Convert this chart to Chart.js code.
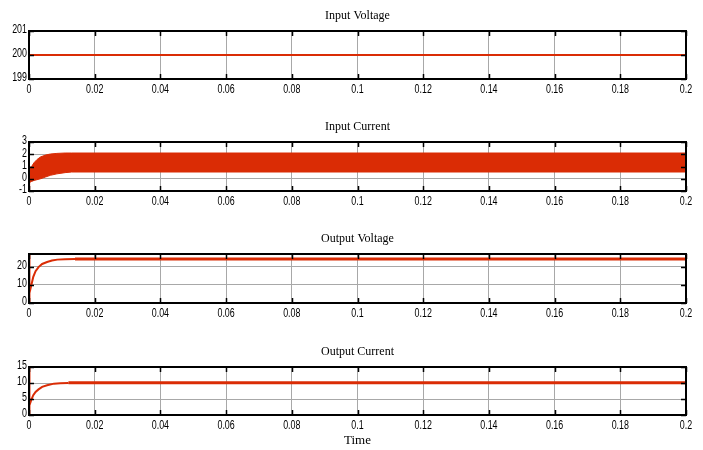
<!DOCTYPE html>
<html>
<head>
<meta charset="utf-8">
<script src="https://cdn.jsdelivr.net/npm/chart.js@4.4.1/dist/chart.umd.min.js"></script>
<style>
    html, body { margin: 0; padding: 0; background: #fff; width: 703px; height: 450px; overflow: hidden; }
    .panel { position: absolute; left: 0; width: 703px; }
    .panel canvas { display: block; }
</style>
</head>
<body>
<div class="panel" id="p1"><canvas id="c1"></canvas></div>
<div class="panel" id="p2"><canvas id="c2"></canvas></div>
<div class="panel" id="p3"><canvas id="c3"></canvas></div>
<div class="panel" id="p4"><canvas id="c4"></canvas></div>
<script>
/* =========================
   DATA
========================== */
const timeTicks = [0, 0.02, 0.04, 0.06, 0.08, 0.1, 0.12, 0.14, 0.16, 0.18, 0.2];

// Input Voltage
const vinTime = [0, 0.2];
const vinValues = [200, 200];
const vinTicks = [199, 200, 201];

// Input Current (envelope of the ripple band)
const iinTime  = [0, 0.0002, 0.0008, 0.0015, 0.0024, 0.0035, 0.005, 0.0065, 0.0085, 0.011, 0.013, 0.2];
const iinUpper = [0.55, 0.75, 1.0, 1.3, 1.56, 1.78, 1.93, 2.02, 2.07, 2.1, 2.1, 2.1];
const iinLower = [-1, -0.3, -0.22, -0.14, -0.08, 0.0, 0.14, 0.28, 0.4, 0.5, 0.55, 0.55];
const iinTicks = [-1, 0, 1, 2, 3];

// Output Voltage
const voutTime   = [0, 0, 0.0001, 0.0003, 0.0008, 0.0013, 0.002, 0.0029, 0.004, 0.0055, 0.007, 0.0086, 0.011, 0.014];
const voutValues = [0, 27, 2, 5.5, 10.5, 14.4, 17.5, 19.8, 21.5, 22.6, 23.4, 23.9, 24.1, 24.3];
const voutSteadyTime = [0.014, 0.2];
const voutSteady     = [24.3, 24.3];
const voutTicks = [0, 10, 20];

// Output Current
const ioutTime   = [0, 0, 0.0001, 0.0003, 0.0008, 0.0013, 0.002, 0.0029, 0.004, 0.0055, 0.0076, 0.0095, 0.012];
const ioutValues = [0, 15, 1.5, 3, 5, 6.2, 7.2, 8, 8.8, 9.3, 9.8, 9.95, 10.0];
const ioutSteadyTime = [0.012, 0.2];
const ioutSteady     = [10.05, 10.05];
const ioutTicks = [0, 5, 10, 15];

/* =========================
   STYLE
========================== */
const RED = "#da2c05";
const GRID = "#a8a8a8";
const sans = "'Liberation Sans', Arial, sans-serif";
const serif = "'Liberation Serif', 'DejaVu Serif', serif";

const pts = (xs, ys) => xs.map((x, i) => ({ x, y: ys[i] }));

// narrow tick text (Arial Narrow look)
function narrowText(ctx, text, x, y, align) {
    ctx.save();
    ctx.translate(x, y);
    ctx.scale(0.74, 1);
    ctx.textAlign = align;
    ctx.fillText(text, 0, 0);
    ctx.restore();
}

/* MATLAB-like frame: box, inward ticks, tick labels, title */
const matlabFrame = {
    id: "matlabFrame",
    afterDatasetsDraw(chart, args, opts) {
        const { ctx, chartArea: a, scales } = chart;
        ctx.save();
        ctx.strokeStyle = "#000";
        ctx.lineWidth = 1.5;
        ctx.beginPath();
        scales.x.ticks.forEach(t => {
            const px = Math.round(scales.x.getPixelForValue(t.value)) + 0.5;
            ctx.moveTo(px, a.top); ctx.lineTo(px, a.top + 5);
            ctx.moveTo(px, a.bottom); ctx.lineTo(px, a.bottom - 5);
        });
        scales.y.ticks.forEach(t => {
            const py = Math.round(scales.y.getPixelForValue(t.value)) + 0.5;
            ctx.moveTo(a.left, py); ctx.lineTo(a.left + 5, py);
            ctx.moveTo(a.right, py); ctx.lineTo(a.right - 5, py);
        });
        ctx.stroke();
        ctx.lineWidth = 2;
        ctx.strokeRect(a.left, a.top, a.right - a.left, a.bottom - a.top);

        // tick labels
        ctx.fillStyle = "#000";
        ctx.font = "12px " + sans;
        ctx.textBaseline = "middle";
        scales.x.ticks.forEach(t => {
            const px = scales.x.getPixelForValue(t.value);
            narrowText(ctx, String(Number(t.value.toFixed(2))), px, a.bottom + 10.5, "center");
        });
        scales.y.ticks.forEach(t => {
            const py = scales.y.getPixelForValue(t.value);
            narrowText(ctx, String(t.value), a.left - 2, py - 1, "right");
        });

        // title
        ctx.fillStyle = "#000";
        ctx.font = "12px " + serif;
        ctx.textAlign = "center";
        ctx.fillText(opts.title, (a.left + a.right) / 2, a.top - 15);
        ctx.restore();
    }
};

/* =========================
   PANELS
========================== */
function makePanel(id, plotTop, plotBottom, xHeight, title, yMin, yMax, yTicks, datasets, xTitle) {
    const panel = document.getElementById("p" + id);
    const canvas = document.getElementById("c" + id);
    const padTop = 30;
    const h = padTop + (plotBottom - plotTop) + xHeight;
    panel.style.top = (plotTop - padTop) + "px";
    panel.style.height = h + "px";
    canvas.width = 703;
    canvas.height = h;

    return new Chart(canvas.getContext("2d"), {
        type: "line",
        data: { datasets },
        options: {
            responsive: false,
            animation: false,
            devicePixelRatio: 1,
            layout: { padding: { top: padTop, right: 17, left: 0, bottom: 0 } },
            elements: { point: { radius: 0 }, line: { tension: 0 } },
            plugins: {
                legend: { display: false },
                tooltip: { enabled: false },
                matlabFrame: { title }
            },
            scales: {
                x: {
                    type: "linear",
                    min: 0,
                    max: 0.2,
                    afterBuildTicks: s => { s.ticks = timeTicks.map(v => ({ value: v })); },
                    afterFit: s => { s.height = xHeight; },
                    grid: { color: GRID, lineWidth: 1, drawTicks: false },
                    border: { display: false },
                    ticks: { display: false, autoSkip: false },
                    title: xTitle ? {
                        display: true,
                        text: xTitle,
                        color: "#000",
                        font: { family: serif, size: 13 },
                        padding: { top: 0, bottom: 2 }
                    } : { display: false }
                },
                y: {
                    min: yMin,
                    max: yMax,
                    afterBuildTicks: s => { s.ticks = yTicks.map(v => ({ value: v })); },
                    afterFit: s => { s.width = 29; },
                    grid: { color: GRID, lineWidth: 1, drawTicks: false },
                    border: { display: false },
                    ticks: { display: false, autoSkip: false }
                }
            }
        },
        plugins: [matlabFrame]
    });
}

makePanel(1, 31, 79, 22, "Input Voltage", 199, 201, vinTicks, [
    { data: pts(vinTime, vinValues), borderColor: RED, borderWidth: 2 }
]);

makePanel(2, 142, 191, 22, "Input Current", -1, 3, iinTicks, [
    { data: pts(iinTime, iinUpper), borderColor: RED, borderWidth: 1, fill: false },
    { data: pts(iinTime, iinLower), borderColor: RED, borderWidth: 1, backgroundColor: RED, fill: "-1" }
]);

makePanel(3, 254, 303, 22, "Output Voltage", 0, 27, voutTicks, [
    { data: pts(voutTime, voutValues), borderColor: RED, borderWidth: 2 },
    { data: pts(voutSteadyTime, voutSteady), borderColor: RED, borderWidth: 3 }
]);

makePanel(4, 367, 415, 35, "Output Current", 0, 15, ioutTicks, [
    { data: pts(ioutTime, ioutValues), borderColor: RED, borderWidth: 2 },
    { data: pts(ioutSteadyTime, ioutSteady), borderColor: RED, borderWidth: 3 }
], "Time");
</script>
</body>
</html>
